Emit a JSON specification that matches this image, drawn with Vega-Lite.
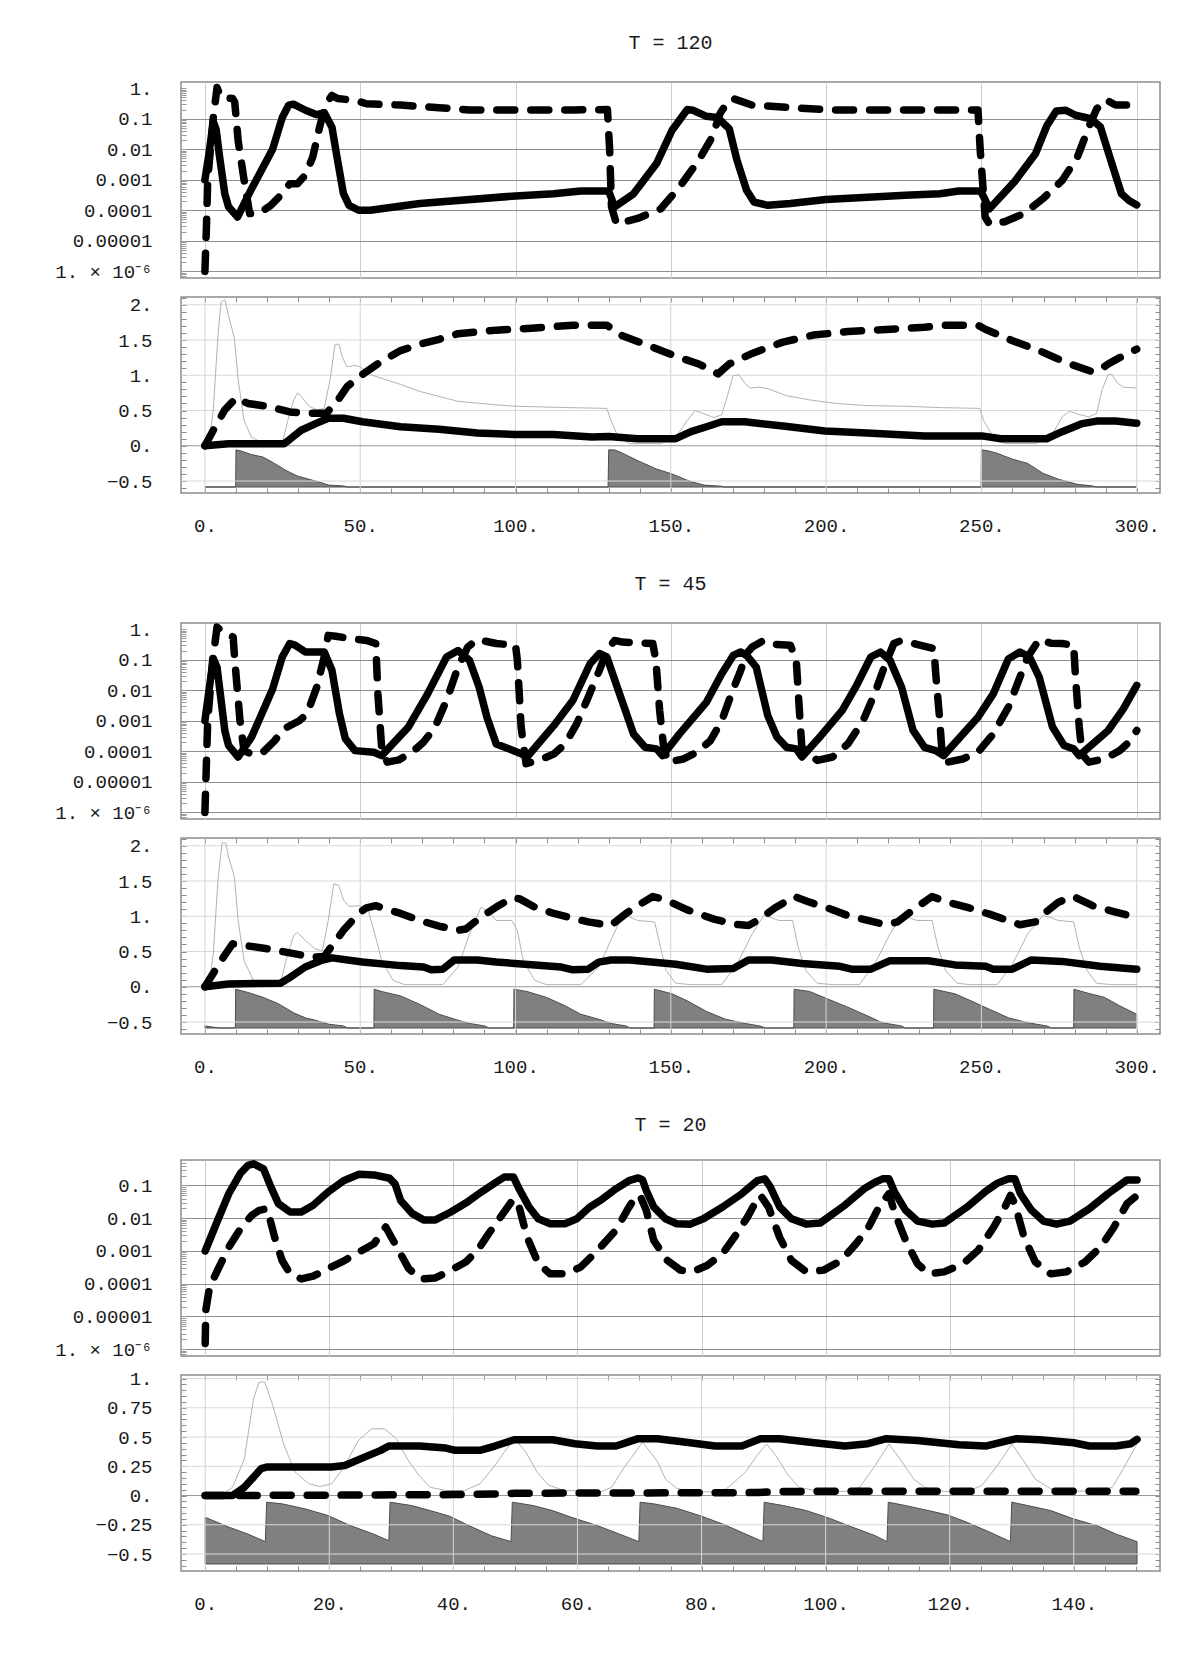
{
"$schema": "https://vega.github.io/schema/vega-lite/v6.json",
"background": "white",
"padding": {"left": 54, "top": 32, "right": 5, "bottom": 5},
"config": {
  "font": "Liberation Mono",
  "view": {"stroke": "#8c8c8c", "strokeWidth": 1.5},
  "axis": {"labelFont": "Liberation Mono", "labelFontSize": 19, "labelColor": "#1a1a1a", "domain": false, "labelOverlap": false, "labelBound": false, "labelFlush": false, "tickColor": "#8c8c8c", "tickWidth": 1},
  "title": {"font": "Liberation Mono", "fontSize": 20, "fontWeight": "normal", "color": "#1a1a1a"}
},
"datasets": {
"t120_log": [
{"s":"A","t":0,"v":0.001},{"s":"A","t":1.2,"v":0.006},{"s":"A","t":2.7,"v":0.08},{"s":"A","t":3.6,"v":0.045},{"s":"A","t":4.6,"v":0.007},{"s":"A","t":6.4,"v":0.00035},{"s":"A","t":7.6,"v":0.00013},{"s":"A","t":10.5,"v":0.00006},{"s":"A","t":15,"v":0.0005},{"s":"A","t":21.8,"v":0.01},{"s":"A","t":24.9,"v":0.11},{"s":"A","t":27,"v":0.28},{"s":"A","t":28.5,"v":0.3},{"s":"A","t":32.4,"v":0.19},{"s":"A","t":36,"v":0.135},{"s":"A","t":38.4,"v":0.16},{"s":"A","t":40.9,"v":0.053},{"s":"A","t":42.7,"v":0.0044},{"s":"A","t":44.6,"v":0.00035},{"s":"A","t":46.4,"v":0.000145},{"s":"A","t":49.5,"v":0.0001},{"s":"A","t":53.2,"v":0.0001},{"s":"A","t":69.2,"v":0.000166},{"s":"A","t":100,"v":0.000295},{"s":"A","t":112.3,"v":0.000347},{"s":"A","t":121,"v":0.000427},{"s":"A","t":130,"v":0.000427},{"s":"A","t":131.9,"v":0.00013},{"s":"A","t":138,"v":0.000347},{"s":"A","t":145.4,"v":0.0034},{"s":"A","t":150.4,"v":0.042},{"s":"A","t":155.3,"v":0.2},{"s":"A","t":157.1,"v":0.19},{"s":"A","t":161.5,"v":0.12},{"s":"A","t":165,"v":0.11},{"s":"A","t":168.8,"v":0.047},{"s":"A","t":171.3,"v":0.0044},{"s":"A","t":174.4,"v":0.00045},{"s":"A","t":176.8,"v":0.000186},{"s":"A","t":181.2,"v":0.000145},{"s":"A","t":188.5,"v":0.000166},{"s":"A","t":199.9,"v":0.000224},{"s":"A","t":225.5,"v":0.00031},{"s":"A","t":236.6,"v":0.000347},{"s":"A","t":242.7,"v":0.000427},{"s":"A","t":249.8,"v":0.000427},{"s":"A","t":252.6,"v":0.000112},{"s":"A","t":260.6,"v":0.00085},{"s":"A","t":267.4,"v":0.0071},{"s":"A","t":271.1,"v":0.06},{"s":"A","t":274.1,"v":0.18},{"s":"A","t":277.2,"v":0.19},{"s":"A","t":280.3,"v":0.13},{"s":"A","t":285.2,"v":0.1},{"s":"A","t":288.3,"v":0.054},{"s":"A","t":292,"v":0.0034},{"s":"A","t":295.1,"v":0.000347},{"s":"A","t":297.5,"v":0.00021},{"s":"A","t":300,"v":0.00015},
{"s":"B","t":0,"v":0.000001},{"s":"B","t":0.5,"v":0.00003},{"s":"B","t":0.9,"v":0.001},{"s":"B","t":2.7,"v":0.11},{"s":"B","t":3.9,"v":1.05},{"s":"B","t":5.2,"v":0.5},{"s":"B","t":8.9,"v":0.46},{"s":"B","t":9.6,"v":0.35},{"s":"B","t":10.7,"v":0.019},{"s":"B","t":12.6,"v":0.001},{"s":"B","t":14.4,"v":0.000078},{"s":"B","t":17.5,"v":0.00008},{"s":"B","t":21.2,"v":0.000145},{"s":"B","t":24.9,"v":0.00035},{"s":"B","t":27.3,"v":0.00074},{"s":"B","t":29.8,"v":0.00074},{"s":"B","t":32.3,"v":0.0014},{"s":"B","t":34.7,"v":0.0055},{"s":"B","t":37.2,"v":0.069},{"s":"B","t":39,"v":0.31},{"s":"B","t":40.9,"v":0.58},{"s":"B","t":42.7,"v":0.46},{"s":"B","t":48.3,"v":0.4},{"s":"B","t":52,"v":0.31},{"s":"B","t":63,"v":0.28},{"s":"B","t":75.4,"v":0.23},{"s":"B","t":85.2,"v":0.195},{"s":"B","t":118.5,"v":0.195},{"s":"B","t":129.6,"v":0.2},{"s":"B","t":130.3,"v":0.01},{"s":"B","t":130.9,"v":0.00013},{"s":"B","t":132.5,"v":0.000036},{"s":"B","t":139.3,"v":0.000054},{"s":"B","t":146.7,"v":0.00011},{"s":"B","t":152.8,"v":0.00058},{"s":"B","t":159,"v":0.0044},{"s":"B","t":163.3,"v":0.025},{"s":"B","t":165.8,"v":0.145},{"s":"B","t":168.2,"v":0.35},{"s":"B","t":170,"v":0.46},{"s":"B","t":176.2,"v":0.28},{"s":"B","t":200.9,"v":0.195},{"s":"B","t":248.9,"v":0.195},{"s":"B","t":249.6,"v":0.01},{"s":"B","t":251.2,"v":0.00006},{"s":"B","t":252.6,"v":0.000035},{"s":"B","t":257.5,"v":0.000042},{"s":"B","t":263.7,"v":0.000078},{"s":"B","t":269.8,"v":0.00024},{"s":"B","t":276,"v":0.00095},{"s":"B","t":280.9,"v":0.0055},{"s":"B","t":284.6,"v":0.054},{"s":"B","t":287.1,"v":0.21},{"s":"B","t":290.1,"v":0.42},{"s":"B","t":293.2,"v":0.28},{"s":"B","t":300,"v":0.28}
],
"t120_lin": [
{"s":"C","t":0,"v":0},{"s":"C","t":2.7,"v":0.22},{"s":"C","t":6.4,"v":0.51},{"s":"C","t":10.1,"v":0.68},{"s":"C","t":13.8,"v":0.6},{"s":"C","t":20,"v":0.56},{"s":"C","t":27.3,"v":0.48},{"s":"C","t":32.3,"v":0.46},{"s":"C","t":39,"v":0.46},{"s":"C","t":42.1,"v":0.6},{"s":"C","t":45.8,"v":0.84},{"s":"C","t":50.7,"v":1.01},{"s":"C","t":56.9,"v":1.2},{"s":"C","t":63,"v":1.35},{"s":"C","t":69.2,"v":1.44},{"s":"C","t":75.4,"v":1.51},{"s":"C","t":81.5,"v":1.59},{"s":"C","t":93.8,"v":1.64},{"s":"C","t":106.2,"v":1.67},{"s":"C","t":118.5,"v":1.71},{"s":"C","t":129.4,"v":1.71},{"s":"C","t":134.4,"v":1.56},{"s":"C","t":141.7,"v":1.44},{"s":"C","t":151.6,"v":1.27},{"s":"C","t":159,"v":1.16},{"s":"C","t":163.9,"v":1.05},{"s":"C","t":165.2,"v":1.02},{"s":"C","t":168.8,"v":1.16},{"s":"C","t":176.2,"v":1.31},{"s":"C","t":186.1,"v":1.47},{"s":"C","t":195.9,"v":1.57},{"s":"C","t":207,"v":1.62},{"s":"C","t":219.3,"v":1.65},{"s":"C","t":231.7,"v":1.68},{"s":"C","t":237.8,"v":1.71},{"s":"C","t":248.9,"v":1.71},{"s":"C","t":251.4,"v":1.65},{"s":"C","t":260,"v":1.49},{"s":"C","t":268.6,"v":1.35},{"s":"C","t":277.2,"v":1.18},{"s":"C","t":285.8,"v":1.05},{"s":"C","t":288.3,"v":1.08},{"s":"C","t":290.8,"v":1.16},{"s":"C","t":294.5,"v":1.25},{"s":"C","t":300,"v":1.37},
{"s":"D","t":0,"v":0},{"s":"D","t":7.6,"v":0.03},{"s":"D","t":20,"v":0.03},{"s":"D","t":25.5,"v":0.03},{"s":"D","t":27.3,"v":0.09},{"s":"D","t":31,"v":0.22},{"s":"D","t":36,"v":0.32},{"s":"D","t":39.7,"v":0.39},{"s":"D","t":44.6,"v":0.39},{"s":"D","t":50.7,"v":0.34},{"s":"D","t":63,"v":0.27},{"s":"D","t":75.4,"v":0.235},{"s":"D","t":87.7,"v":0.18},{"s":"D","t":100,"v":0.16},{"s":"D","t":112.3,"v":0.16},{"s":"D","t":124.6,"v":0.125},{"s":"D","t":130,"v":0.13},{"s":"D","t":139.3,"v":0.1},{"s":"D","t":151.6,"v":0.1},{"s":"D","t":156.5,"v":0.2},{"s":"D","t":161.5,"v":0.27},{"s":"D","t":166.4,"v":0.34},{"s":"D","t":173.8,"v":0.34},{"s":"D","t":186.1,"v":0.28},{"s":"D","t":199.6,"v":0.21},{"s":"D","t":213.2,"v":0.18},{"s":"D","t":231.7,"v":0.14},{"s":"D","t":250.1,"v":0.14},{"s":"D","t":256.3,"v":0.1},{"s":"D","t":271,"v":0.1},{"s":"D","t":276,"v":0.2},{"s":"D","t":282.1,"v":0.31},{"s":"D","t":287.1,"v":0.35},{"s":"D","t":293.2,"v":0.35},{"s":"D","t":300,"v":0.32},
{"s":"E","t":0,"v":0},{"s":"E","t":1.2,"v":0},{"s":"E","t":2.7,"v":0.51},{"s":"E","t":4.2,"v":1.56},{"s":"E","t":5.2,"v":2.04},{"s":"E","t":6.4,"v":2.07},{"s":"E","t":7.6,"v":1.85},{"s":"E","t":9.5,"v":1.52},{"s":"E","t":10.7,"v":0.94},{"s":"E","t":12.6,"v":0.36},{"s":"E","t":15,"v":0.12},{"s":"E","t":18.7,"v":0.04},{"s":"E","t":24.9,"v":0.04},{"s":"E","t":26.7,"v":0.36},{"s":"E","t":28.6,"v":0.65},{"s":"E","t":29.8,"v":0.75},{"s":"E","t":31,"v":0.7},{"s":"E","t":33.5,"v":0.56},{"s":"E","t":36,"v":0.51},{"s":"E","t":38.4,"v":0.53},{"s":"E","t":40.3,"v":0.94},{"s":"E","t":41.9,"v":1.44},{"s":"E","t":43.1,"v":1.44},{"s":"E","t":44.3,"v":1.25},{"s":"E","t":45.8,"v":1.12},{"s":"E","t":48.3,"v":1.14},{"s":"E","t":50.1,"v":1.12},{"s":"E","t":53.2,"v":1.01},{"s":"E","t":63,"v":0.87},{"s":"E","t":69.2,"v":0.77},{"s":"E","t":81.5,"v":0.63},{"s":"E","t":93.8,"v":0.58},{"s":"E","t":100,"v":0.56},{"s":"E","t":118.5,"v":0.54},{"s":"E","t":129.4,"v":0.53},{"s":"E","t":130.7,"v":0.36},{"s":"E","t":133.1,"v":0.12},{"s":"E","t":136.8,"v":0.03},{"s":"E","t":146.7,"v":0.03},{"s":"E","t":151.6,"v":0.12},{"s":"E","t":155.3,"v":0.36},{"s":"E","t":157.8,"v":0.5},{"s":"E","t":160.3,"v":0.46},{"s":"E","t":163.9,"v":0.4},{"s":"E","t":166.4,"v":0.44},{"s":"E","t":168.2,"v":0.7},{"s":"E","t":170,"v":0.99},{"s":"E","t":171.9,"v":1.01},{"s":"E","t":173.8,"v":0.89},{"s":"E","t":175.6,"v":0.82},{"s":"E","t":178.7,"v":0.83},{"s":"E","t":181.2,"v":0.81},{"s":"E","t":187.3,"v":0.71},{"s":"E","t":194.7,"v":0.65},{"s":"E","t":203.3,"v":0.6},{"s":"E","t":213.2,"v":0.57},{"s":"E","t":225.5,"v":0.56},{"s":"E","t":237.8,"v":0.54},{"s":"E","t":249.5,"v":0.53},{"s":"E","t":250.7,"v":0.36},{"s":"E","t":253.8,"v":0.12},{"s":"E","t":257.5,"v":0.03},{"s":"E","t":267.4,"v":0.03},{"s":"E","t":272.3,"v":0.12},{"s":"E","t":276,"v":0.41},{"s":"E","t":278.5,"v":0.49},{"s":"E","t":280.9,"v":0.45},{"s":"E","t":284.6,"v":0.41},{"s":"E","t":287.1,"v":0.46},{"s":"E","t":288.9,"v":0.8},{"s":"E","t":290.8,"v":1.01},{"s":"E","t":292,"v":1.01},{"s":"E","t":293.8,"v":0.89},{"s":"E","t":295.7,"v":0.83},{"s":"E","t":300,"v":0.82},
{"s":"F","t":0,"v":-0.585},{"s":"F","t":9.9,"v":-0.585},{"s":"F","t":10,"v":-0.058},{"s":"F","t":11.3,"v":-0.07},{"s":"F","t":15,"v":-0.125},{"s":"F","t":18.7,"v":-0.16},{"s":"F","t":22.4,"v":-0.25},{"s":"F","t":26.1,"v":-0.35},{"s":"F","t":29.8,"v":-0.43},{"s":"F","t":33.5,"v":-0.475},{"s":"F","t":37.2,"v":-0.52},{"s":"F","t":39.7,"v":-0.557},{"s":"F","t":44.6,"v":-0.57},{"s":"F","t":45.8,"v":-0.585},{"s":"F","t":129.8,"v":-0.585},{"s":"F","t":130,"v":-0.058},{"s":"F","t":132,"v":-0.06},{"s":"F","t":134.4,"v":-0.105},{"s":"F","t":139.3,"v":-0.21},{"s":"F","t":145.4,"v":-0.33},{"s":"F","t":150.4,"v":-0.4},{"s":"F","t":156.5,"v":-0.51},{"s":"F","t":160.8,"v":-0.557},{"s":"F","t":166.4,"v":-0.575},{"s":"F","t":167,"v":-0.585},{"s":"F","t":249.9,"v":-0.585},{"s":"F","t":250,"v":-0.058},{"s":"F","t":252,"v":-0.07},{"s":"F","t":255,"v":-0.105},{"s":"F","t":260,"v":-0.19},{"s":"F","t":264.9,"v":-0.25},{"s":"F","t":269.8,"v":-0.39},{"s":"F","t":274.8,"v":-0.475},{"s":"F","t":280.9,"v":-0.547},{"s":"F","t":285.8,"v":-0.57},{"s":"F","t":287,"v":-0.585},{"s":"F","t":300,"v":-0.585}
],
"t45_log": [
{"s":"A","t":0,"v":0.001},{"s":"A","t":2.7,"v":0.107},{"s":"A","t":3.9,"v":0.057},{"s":"A","t":6.4,"v":0.00048},{"s":"A","t":7.6,"v":0.000155},{"s":"A","t":10.7,"v":0.000065},{"s":"A","t":15,"v":0.00029},{"s":"A","t":21.8,"v":0.011},{"s":"A","t":24.9,"v":0.123},{"s":"A","t":27.3,"v":0.34},{"s":"A","t":29,"v":0.3},{"s":"A","t":32.3,"v":0.18},{"s":"A","t":38.4,"v":0.18},{"s":"A","t":40.9,"v":0.045},{"s":"A","t":43.3,"v":0.0017},{"s":"A","t":45.2,"v":0.00026},{"s":"A","t":48.3,"v":0.000105},{"s":"A","t":54.4,"v":0.000093},{"s":"A","t":56.9,"v":0.000072},{"s":"A","t":65.5,"v":0.00062},{"s":"A","t":71.7,"v":0.0076},{"s":"A","t":77.8,"v":0.123},{"s":"A","t":81.5,"v":0.2},{"s":"A","t":85.2,"v":0.095},{"s":"A","t":88.3,"v":0.0126},{"s":"A","t":90.8,"v":0.0013},{"s":"A","t":93.8,"v":0.000174},{"s":"A","t":98.8,"v":0.00011},{"s":"A","t":101.8,"v":0.000083},{"s":"A","t":103.7,"v":0.000065},{"s":"A","t":112.3,"v":0.00069},{"s":"A","t":118.5,"v":0.0047},{"s":"A","t":124,"v":0.074},{"s":"A","t":127,"v":0.16},{"s":"A","t":129.4,"v":0.123},{"s":"A","t":133.1,"v":0.01},{"s":"A","t":138,"v":0.00037},{"s":"A","t":141.7,"v":0.000135},{"s":"A","t":145.4,"v":0.00012},{"s":"A","t":147.3,"v":0.000072},{"s":"A","t":152.8,"v":0.00037},{"s":"A","t":161.5,"v":0.0041},{"s":"A","t":166.4,"v":0.035},{"s":"A","t":170.1,"v":0.138},{"s":"A","t":172.5,"v":0.18},{"s":"A","t":174.4,"v":0.138},{"s":"A","t":177.5,"v":0.057},{"s":"A","t":181.2,"v":0.0015},{"s":"A","t":184.2,"v":0.00029},{"s":"A","t":187.3,"v":0.000135},{"s":"A","t":190.4,"v":0.00012},{"s":"A","t":192.2,"v":0.000065},{"s":"A","t":198.4,"v":0.00033},{"s":"A","t":205.2,"v":0.0022},{"s":"A","t":209.5,"v":0.0126},{"s":"A","t":214.4,"v":0.123},{"s":"A","t":217.5,"v":0.18},{"s":"A","t":220.6,"v":0.095},{"s":"A","t":224.3,"v":0.0126},{"s":"A","t":228,"v":0.00048},{"s":"A","t":231.7,"v":0.000135},{"s":"A","t":235.3,"v":0.000105},{"s":"A","t":237.8,"v":0.000072},{"s":"A","t":248.9,"v":0.0013},{"s":"A","t":253.8,"v":0.0076},{"s":"A","t":258.7,"v":0.107},{"s":"A","t":262.4,"v":0.18},{"s":"A","t":265.5,"v":0.123},{"s":"A","t":268.6,"v":0.027},{"s":"A","t":272.9,"v":0.00062},{"s":"A","t":276.6,"v":0.000155},{"s":"A","t":279.7,"v":0.00012},{"s":"A","t":281.5,"v":0.000072},{"s":"A","t":290.8,"v":0.00048},{"s":"A","t":295.7,"v":0.00245},{"s":"A","t":300,"v":0.0145},
{"s":"B","t":0,"v":0.000001},{"s":"B","t":0.9,"v":0.001},{"s":"B","t":2.5,"v":0.095},{"s":"B","t":3.9,"v":1.17},{"s":"B","t":5.2,"v":0.91},{"s":"B","t":9.1,"v":0.55},{"s":"B","t":9.6,"v":0.1},{"s":"B","t":11.3,"v":0.001},{"s":"B","t":12.6,"v":0.000105},{"s":"B","t":15,"v":0.000081},{"s":"B","t":18.7,"v":0.000093},{"s":"B","t":22.4,"v":0.00022},{"s":"B","t":25.5,"v":0.00055},{"s":"B","t":30.4,"v":0.001},{"s":"B","t":32.9,"v":0.0017},{"s":"B","t":36,"v":0.0126},{"s":"B","t":38.4,"v":0.123},{"s":"B","t":39.7,"v":0.63},{"s":"B","t":42.1,"v":0.59},{"s":"B","t":47,"v":0.49},{"s":"B","t":52,"v":0.43},{"s":"B","t":55,"v":0.34},{"s":"B","t":55.7,"v":0.0076},{"s":"B","t":56.9,"v":0.000135},{"s":"B","t":58.7,"v":0.000044},{"s":"B","t":62.4,"v":0.000052},{"s":"B","t":66.7,"v":0.000093},{"s":"B","t":70.4,"v":0.0002},{"s":"B","t":74.1,"v":0.00062},{"s":"B","t":77.8,"v":0.0047},{"s":"B","t":81.5,"v":0.057},{"s":"B","t":84.6,"v":0.26},{"s":"B","t":87.7,"v":0.46},{"s":"B","t":93.8,"v":0.34},{"s":"B","t":100,"v":0.3},{"s":"B","t":100.6,"v":0.095},{"s":"B","t":101.8,"v":0.00062},{"s":"B","t":103.4,"v":0.000039},{"s":"B","t":108.6,"v":0.000056},{"s":"B","t":112.3,"v":0.000081},{"s":"B","t":116,"v":0.000174},{"s":"B","t":119.7,"v":0.00079},{"s":"B","t":123.4,"v":0.0059},{"s":"B","t":127,"v":0.045},{"s":"B","t":129.4,"v":0.2},{"s":"B","t":131.9,"v":0.43},{"s":"B","t":134.4,"v":0.38},{"s":"B","t":144.2,"v":0.34},{"s":"B","t":145.2,"v":0.095},{"s":"B","t":146.4,"v":0.0022},{"s":"B","t":147.7,"v":0.000135},{"s":"B","t":149.1,"v":0.000044},{"s":"B","t":154.1,"v":0.000056},{"s":"B","t":158.4,"v":0.000093},{"s":"B","t":162.7,"v":0.00022},{"s":"B","t":166.4,"v":0.001},{"s":"B","t":169.5,"v":0.0076},{"s":"B","t":172.5,"v":0.045},{"s":"B","t":174.4,"v":0.16},{"s":"B","t":176.2,"v":0.26},{"s":"B","t":179.9,"v":0.43},{"s":"B","t":183.6,"v":0.32},{"s":"B","t":188.5,"v":0.3},{"s":"B","t":190.4,"v":0.095},{"s":"B","t":191.6,"v":0.001},{"s":"B","t":192.2,"v":0.000135},{"s":"B","t":197.2,"v":0.00005},{"s":"B","t":202.1,"v":0.000065},{"s":"B","t":207,"v":0.000174},{"s":"B","t":211.9,"v":0.001},{"s":"B","t":215.6,"v":0.0076},{"s":"B","t":218.7,"v":0.057},{"s":"B","t":221.8,"v":0.34},{"s":"B","t":224.3,"v":0.43},{"s":"B","t":229.2,"v":0.32},{"s":"B","t":234.7,"v":0.23},{"s":"B","t":235.3,"v":0.035},{"s":"B","t":236.6,"v":0.001},{"s":"B","t":237.2,"v":0.000135},{"s":"B","t":239.1,"v":0.000044},{"s":"B","t":244,"v":0.000056},{"s":"B","t":248.9,"v":0.000093},{"s":"B","t":253.8,"v":0.00037},{"s":"B","t":258.7,"v":0.0028},{"s":"B","t":262.4,"v":0.027},{"s":"B","t":264.9,"v":0.123},{"s":"B","t":268.6,"v":0.46},{"s":"B","t":272.3,"v":0.35},{"s":"B","t":276,"v":0.34},{"s":"B","t":279.7,"v":0.3},{"s":"B","t":280.3,"v":0.027},{"s":"B","t":281.5,"v":0.00062},{"s":"B","t":282.4,"v":0.000081},{"s":"B","t":284.6,"v":0.000044},{"s":"B","t":289.6,"v":0.000056},{"s":"B","t":294.5,"v":0.000105},{"s":"B","t":297.5,"v":0.0002},{"s":"B","t":300,"v":0.00048}
],
"t45_lin": [
{"s":"C","t":0,"v":0},{"s":"C","t":5.2,"v":0.37},{"s":"C","t":8.9,"v":0.61},{"s":"C","t":13.8,"v":0.58},{"s":"C","t":20,"v":0.54},{"s":"C","t":27.3,"v":0.48},{"s":"C","t":34.7,"v":0.42},{"s":"C","t":38.4,"v":0.43},{"s":"C","t":40.9,"v":0.58},{"s":"C","t":44.6,"v":0.8},{"s":"C","t":49.5,"v":1.04},{"s":"C","t":52,"v":1.12},{"s":"C","t":55,"v":1.15},{"s":"C","t":63,"v":1.04},{"s":"C","t":69.2,"v":0.94},{"s":"C","t":75.4,"v":0.86},{"s":"C","t":81.5,"v":0.8},{"s":"C","t":84,"v":0.82},{"s":"C","t":88.9,"v":0.99},{"s":"C","t":93.8,"v":1.13},{"s":"C","t":98.8,"v":1.26},{"s":"C","t":101.2,"v":1.25},{"s":"C","t":106.2,"v":1.13},{"s":"C","t":112.3,"v":1.04},{"s":"C","t":118.5,"v":0.97},{"s":"C","t":123.4,"v":0.92},{"s":"C","t":130.7,"v":0.87},{"s":"C","t":135.6,"v":1.04},{"s":"C","t":139.3,"v":1.15},{"s":"C","t":144.2,"v":1.28},{"s":"C","t":148.5,"v":1.23},{"s":"C","t":155.3,"v":1.09},{"s":"C","t":163.9,"v":0.96},{"s":"C","t":170.1,"v":0.89},{"s":"C","t":175,"v":0.87},{"s":"C","t":178.7,"v":0.96},{"s":"C","t":183.6,"v":1.12},{"s":"C","t":189.8,"v":1.28},{"s":"C","t":194.7,"v":1.2},{"s":"C","t":200.9,"v":1.11},{"s":"C","t":207,"v":1.01},{"s":"C","t":214.4,"v":0.93},{"s":"C","t":219.3,"v":0.88},{"s":"C","t":223,"v":0.92},{"s":"C","t":228,"v":1.09},{"s":"C","t":234.1,"v":1.28},{"s":"C","t":239.1,"v":1.2},{"s":"C","t":245.2,"v":1.13},{"s":"C","t":252.6,"v":1.03},{"s":"C","t":262.4,"v":0.88},{"s":"C","t":267.4,"v":0.92},{"s":"C","t":271.1,"v":1.07},{"s":"C","t":274.8,"v":1.2},{"s":"C","t":279.7,"v":1.28},{"s":"C","t":285.8,"v":1.15},{"s":"C","t":293.2,"v":1.06},{"s":"C","t":300,"v":0.98},
{"s":"D","t":0,"v":0},{"s":"D","t":7.6,"v":0.04},{"s":"D","t":24.3,"v":0.05},{"s":"D","t":27.3,"v":0.13},{"s":"D","t":32.3,"v":0.28},{"s":"D","t":37.2,"v":0.37},{"s":"D","t":40.9,"v":0.41},{"s":"D","t":50.7,"v":0.35},{"s":"D","t":63,"v":0.3},{"s":"D","t":70.4,"v":0.28},{"s":"D","t":72.9,"v":0.24},{"s":"D","t":76.6,"v":0.25},{"s":"D","t":80.3,"v":0.38},{"s":"D","t":87.7,"v":0.38},{"s":"D","t":93.8,"v":0.35},{"s":"D","t":106.2,"v":0.31},{"s":"D","t":114.8,"v":0.28},{"s":"D","t":118.5,"v":0.24},{"s":"D","t":123.4,"v":0.25},{"s":"D","t":126.8,"v":0.35},{"s":"D","t":130.7,"v":0.38},{"s":"D","t":136.8,"v":0.38},{"s":"D","t":151.6,"v":0.32},{"s":"D","t":161.5,"v":0.25},{"s":"D","t":170.1,"v":0.26},{"s":"D","t":175,"v":0.38},{"s":"D","t":182.4,"v":0.38},{"s":"D","t":192.2,"v":0.33},{"s":"D","t":204.5,"v":0.29},{"s":"D","t":208.2,"v":0.25},{"s":"D","t":214.4,"v":0.25},{"s":"D","t":220.6,"v":0.37},{"s":"D","t":232.9,"v":0.37},{"s":"D","t":241.5,"v":0.31},{"s":"D","t":251.4,"v":0.29},{"s":"D","t":253.8,"v":0.25},{"s":"D","t":259.9,"v":0.25},{"s":"D","t":266.1,"v":0.38},{"s":"D","t":275.9,"v":0.36},{"s":"D","t":288.2,"v":0.29},{"s":"D","t":300,"v":0.25},
{"s":"E","t":0,"v":0},{"s":"E","t":1.2,"v":0},{"s":"E","t":2.7,"v":0.47},{"s":"E","t":4.2,"v":1.51},{"s":"E","t":5.5,"v":2.04},{"s":"E","t":6.7,"v":2.04},{"s":"E","t":7.6,"v":1.84},{"s":"E","t":9.5,"v":1.56},{"s":"E","t":10.7,"v":0.94},{"s":"E","t":12.6,"v":0.37},{"s":"E","t":15.6,"v":0.09},{"s":"E","t":18.7,"v":0.04},{"s":"E","t":24.3,"v":0.04},{"s":"E","t":26.1,"v":0.37},{"s":"E","t":28.6,"v":0.73},{"s":"E","t":29.8,"v":0.77},{"s":"E","t":32.3,"v":0.66},{"s":"E","t":35.3,"v":0.54},{"s":"E","t":37.8,"v":0.51},{"s":"E","t":39.7,"v":0.94},{"s":"E","t":41.5,"v":1.46},{"s":"E","t":43.1,"v":1.44},{"s":"E","t":44.6,"v":1.23},{"s":"E","t":46.4,"v":1.14},{"s":"E","t":50.1,"v":1.15},{"s":"E","t":52.6,"v":1.08},{"s":"E","t":55,"v":0.7},{"s":"E","t":56.9,"v":0.37},{"s":"E","t":60.6,"v":0.09},{"s":"E","t":64.3,"v":0.03},{"s":"E","t":76.6,"v":0.03},{"s":"E","t":81.5,"v":0.28},{"s":"E","t":85.2,"v":0.75},{"s":"E","t":88.9,"v":1.13},{"s":"E","t":91.4,"v":1.06},{"s":"E","t":93.8,"v":0.94},{"s":"E","t":98.8,"v":0.94},{"s":"E","t":100.6,"v":0.8},{"s":"E","t":102.5,"v":0.37},{"s":"E","t":106.2,"v":0.09},{"s":"E","t":109.9,"v":0.03},{"s":"E","t":121,"v":0.03},{"s":"E","t":126.8,"v":0.28},{"s":"E","t":130.7,"v":0.66},{"s":"E","t":134.4,"v":1.01},{"s":"E","t":136.8,"v":0.99},{"s":"E","t":139.3,"v":0.94},{"s":"E","t":144.8,"v":0.92},{"s":"E","t":146.7,"v":0.56},{"s":"E","t":148.5,"v":0.23},{"s":"E","t":151.6,"v":0.05},{"s":"E","t":156.5,"v":0.03},{"s":"E","t":166.4,"v":0.03},{"s":"E","t":171.3,"v":0.32},{"s":"E","t":176.2,"v":0.75},{"s":"E","t":179.9,"v":1.01},{"s":"E","t":182.4,"v":0.98},{"s":"E","t":184.8,"v":0.94},{"s":"E","t":189.2,"v":0.94},{"s":"E","t":191,"v":0.56},{"s":"E","t":193.5,"v":0.23},{"s":"E","t":197.2,"v":0.05},{"s":"E","t":202.1,"v":0.03},{"s":"E","t":210.7,"v":0.03},{"s":"E","t":215.6,"v":0.32},{"s":"E","t":220.6,"v":0.75},{"s":"E","t":224.3,"v":1.01},{"s":"E","t":226.7,"v":0.98},{"s":"E","t":229.2,"v":0.94},{"s":"E","t":234.1,"v":0.94},{"s":"E","t":236,"v":0.56},{"s":"E","t":238.5,"v":0.23},{"s":"E","t":242.2,"v":0.05},{"s":"E","t":246.5,"v":0.03},{"s":"E","t":255.1,"v":0.03},{"s":"E","t":260,"v":0.32},{"s":"E","t":264.9,"v":0.75},{"s":"E","t":269.8,"v":1.01},{"s":"E","t":272.3,"v":0.98},{"s":"E","t":274.8,"v":0.94},{"s":"E","t":279.7,"v":0.92},{"s":"E","t":281.5,"v":0.56},{"s":"E","t":284,"v":0.23},{"s":"E","t":287.1,"v":0.05},{"s":"E","t":292,"v":0.03},{"s":"E","t":300,"v":0.03},
{"s":"F","t":0,"v":-0.556},{"s":"F","t":3,"v":-0.575},{"s":"F","t":5,"v":-0.585},{"s":"F","t":9.8,"v":-0.585},{"s":"F","t":9.9,"v":-0.035},{"s":"F","t":13.8,"v":-0.08},{"s":"F","t":18.7,"v":-0.15},{"s":"F","t":23.6,"v":-0.24},{"s":"F","t":28.6,"v":-0.37},{"s":"F","t":32.3,"v":-0.44},{"s":"F","t":36,"v":-0.48},{"s":"F","t":39.7,"v":-0.53},{"s":"F","t":44.6,"v":-0.556},{"s":"F","t":46,"v":-0.585},{"s":"F","t":54.4,"v":-0.585},{"s":"F","t":54.5,"v":-0.035},{"s":"F","t":56.9,"v":-0.067},{"s":"F","t":63,"v":-0.13},{"s":"F","t":69.2,"v":-0.25},{"s":"F","t":75.4,"v":-0.39},{"s":"F","t":81.5,"v":-0.475},{"s":"F","t":85.2,"v":-0.52},{"s":"F","t":90.1,"v":-0.556},{"s":"F","t":91.5,"v":-0.585},{"s":"F","t":99.4,"v":-0.585},{"s":"F","t":99.5,"v":-0.035},{"s":"F","t":103.7,"v":-0.067},{"s":"F","t":109.9,"v":-0.15},{"s":"F","t":116,"v":-0.27},{"s":"F","t":121,"v":-0.39},{"s":"F","t":126.8,"v":-0.46},{"s":"F","t":130.7,"v":-0.52},{"s":"F","t":135.6,"v":-0.556},{"s":"F","t":136.8,"v":-0.585},{"s":"F","t":144.6,"v":-0.585},{"s":"F","t":144.7,"v":-0.035},{"s":"F","t":150.4,"v":-0.1},{"s":"F","t":155.3,"v":-0.2},{"s":"F","t":161.5,"v":-0.35},{"s":"F","t":167.6,"v":-0.46},{"s":"F","t":173.8,"v":-0.52},{"s":"F","t":178.7,"v":-0.556},{"s":"F","t":180.5,"v":-0.585},{"s":"F","t":189.6,"v":-0.585},{"s":"F","t":189.7,"v":-0.035},{"s":"F","t":194.7,"v":-0.067},{"s":"F","t":200.9,"v":-0.18},{"s":"F","t":207,"v":-0.29},{"s":"F","t":213.2,"v":-0.41},{"s":"F","t":218.1,"v":-0.51},{"s":"F","t":224.3,"v":-0.556},{"s":"F","t":225.5,"v":-0.585},{"s":"F","t":234.6,"v":-0.585},{"s":"F","t":234.7,"v":-0.035},{"s":"F","t":241.5,"v":-0.1},{"s":"F","t":247.7,"v":-0.22},{"s":"F","t":252.6,"v":-0.32},{"s":"F","t":258.7,"v":-0.44},{"s":"F","t":264.9,"v":-0.51},{"s":"F","t":271.1,"v":-0.556},{"s":"F","t":272.5,"v":-0.585},{"s":"F","t":279.7,"v":-0.585},{"s":"F","t":279.8,"v":-0.035},{"s":"F","t":284.6,"v":-0.095},{"s":"F","t":289.6,"v":-0.15},{"s":"F","t":294.5,"v":-0.27},{"s":"F","t":300,"v":-0.39}
],
"t20_log": [
{"s":"A","t":0,"v":0.001},{"s":"A","t":2,"v":0.0085},{"s":"A","t":3.8,"v":0.056},{"s":"A","t":5.7,"v":0.24},{"s":"A","t":6.9,"v":0.41},{"s":"A","t":7.8,"v":0.46},{"s":"A","t":9.4,"v":0.32},{"s":"A","t":10.6,"v":0.089},{"s":"A","t":11.8,"v":0.028},{"s":"A","t":13.7,"v":0.0155},{"s":"A","t":15.5,"v":0.0155},{"s":"A","t":17.4,"v":0.025},{"s":"A","t":19.8,"v":0.063},{"s":"A","t":22.3,"v":0.14},{"s":"A","t":24.8,"v":0.22},{"s":"A","t":27.2,"v":0.21},{"s":"A","t":29.7,"v":0.166},{"s":"A","t":30.6,"v":0.112},{"s":"A","t":31.5,"v":0.035},{"s":"A","t":33.4,"v":0.0138},{"s":"A","t":35.2,"v":0.0089},{"s":"A","t":37.1,"v":0.0089},{"s":"A","t":39.6,"v":0.0155},{"s":"A","t":42,"v":0.029},{"s":"A","t":44.5,"v":0.063},{"s":"A","t":46.9,"v":0.126},{"s":"A","t":48.2,"v":0.18},{"s":"A","t":49.7,"v":0.18},{"s":"A","t":50.6,"v":0.079},{"s":"A","t":52.2,"v":0.022},{"s":"A","t":53.7,"v":0.0096},{"s":"A","t":55.6,"v":0.0068},{"s":"A","t":58,"v":0.0068},{"s":"A","t":59.9,"v":0.0096},{"s":"A","t":62,"v":0.022},{"s":"A","t":63.7,"v":0.035},{"s":"A","t":66.2,"v":0.079},{"s":"A","t":68.3,"v":0.14},{"s":"A","t":69.8,"v":0.17},{"s":"A","t":70.5,"v":0.148},{"s":"A","t":71.1,"v":0.07},{"s":"A","t":72.3,"v":0.022},{"s":"A","t":74.2,"v":0.0096},{"s":"A","t":76,"v":0.0068},{"s":"A","t":78.2,"v":0.0066},{"s":"A","t":80.3,"v":0.0096},{"s":"A","t":83.4,"v":0.022},{"s":"A","t":86.5,"v":0.056},{"s":"A","t":89,"v":0.14},{"s":"A","t":90.2,"v":0.16},{"s":"A","t":91.1,"v":0.089},{"s":"A","t":92.6,"v":0.022},{"s":"A","t":94.5,"v":0.0096},{"s":"A","t":96.9,"v":0.0066},{"s":"A","t":99.1,"v":0.0071},{"s":"A","t":103.1,"v":0.025},{"s":"A","t":106.2,"v":0.079},{"s":"A","t":108,"v":0.126},{"s":"A","t":109.2,"v":0.16},{"s":"A","t":110.2,"v":0.16},{"s":"A","t":111.1,"v":0.063},{"s":"A","t":112.9,"v":0.0174},{"s":"A","t":114.8,"v":0.0082},{"s":"A","t":117.2,"v":0.0066},{"s":"A","t":119.1,"v":0.0071},{"s":"A","t":122.8,"v":0.022},{"s":"A","t":125.8,"v":0.066},{"s":"A","t":127.7,"v":0.118},{"s":"A","t":129.5,"v":0.16},{"s":"A","t":130.5,"v":0.16},{"s":"A","t":131.4,"v":0.056},{"s":"A","t":133.2,"v":0.0174},{"s":"A","t":135.1,"v":0.0082},{"s":"A","t":137.2,"v":0.0066},{"s":"A","t":139.4,"v":0.0082},{"s":"A","t":142.5,"v":0.0195},{"s":"A","t":145.5,"v":0.056},{"s":"A","t":148.6,"v":0.148},{"s":"A","t":150.2,"v":0.148},
{"s":"B","t":0,"v":0.0000015},{"s":"B","t":0.1,"v":0.0000155},{"s":"B","t":0.7,"v":0.000079},{"s":"B","t":2,"v":0.00026},{"s":"B","t":3.8,"v":0.0013},{"s":"B","t":5.7,"v":0.0048},{"s":"B","t":7.5,"v":0.0123},{"s":"B","t":8.7,"v":0.0174},{"s":"B","t":10,"v":0.0195},{"s":"B","t":11.2,"v":0.0026},{"s":"B","t":12.4,"v":0.00051},{"s":"B","t":13.7,"v":0.0002},{"s":"B","t":15.5,"v":0.00014},{"s":"B","t":17.4,"v":0.00017},{"s":"B","t":19.8,"v":0.00029},{"s":"B","t":22.3,"v":0.00049},{"s":"B","t":24.8,"v":0.00093},{"s":"B","t":27.2,"v":0.00166},{"s":"B","t":29.1,"v":0.0054},{"s":"B","t":30.9,"v":0.0013},{"s":"B","t":32.8,"v":0.00029},{"s":"B","t":34.6,"v":0.00014},{"s":"B","t":37.1,"v":0.00015},{"s":"B","t":39.6,"v":0.00026},{"s":"B","t":42,"v":0.00046},{"s":"B","t":43.9,"v":0.00105},{"s":"B","t":45.7,"v":0.0034},{"s":"B","t":47.6,"v":0.0108},{"s":"B","t":49.7,"v":0.039},{"s":"B","t":50.6,"v":0.022},{"s":"B","t":51.9,"v":0.0026},{"s":"B","t":53.7,"v":0.00041},{"s":"B","t":55.6,"v":0.0002},{"s":"B","t":58,"v":0.0002},{"s":"B","t":60.5,"v":0.00032},{"s":"B","t":63,"v":0.00093},{"s":"B","t":66.2,"v":0.0043},{"s":"B","t":68,"v":0.0174},{"s":"B","t":69.5,"v":0.05},{"s":"B","t":70.2,"v":0.044},{"s":"B","t":71.1,"v":0.0174},{"s":"B","t":72.3,"v":0.0021},{"s":"B","t":74.5,"v":0.00051},{"s":"B","t":76.6,"v":0.00026},{"s":"B","t":78.5,"v":0.00023},{"s":"B","t":80.9,"v":0.00036},{"s":"B","t":83.4,"v":0.00083},{"s":"B","t":85.5,"v":0.003},{"s":"B","t":87.4,"v":0.0108},{"s":"B","t":88.6,"v":0.028},{"s":"B","t":89.5,"v":0.05},{"s":"B","t":90.8,"v":0.022},{"s":"B","t":92.6,"v":0.0026},{"s":"B","t":94.5,"v":0.00051},{"s":"B","t":96.9,"v":0.00023},{"s":"B","t":99.7,"v":0.00026},{"s":"B","t":102.5,"v":0.00051},{"s":"B","t":104.9,"v":0.00166},{"s":"B","t":106.8,"v":0.0048},{"s":"B","t":108.6,"v":0.022},{"s":"B","t":110.2,"v":0.056},{"s":"B","t":111.1,"v":0.0155},{"s":"B","t":112.9,"v":0.0021},{"s":"B","t":114.8,"v":0.00041},{"s":"B","t":116.6,"v":0.0002},{"s":"B","t":119.1,"v":0.00023},{"s":"B","t":122.2,"v":0.00041},{"s":"B","t":124.6,"v":0.00105},{"s":"B","t":127.1,"v":0.0054},{"s":"B","t":128.9,"v":0.022},{"s":"B","t":129.8,"v":0.05},{"s":"B","t":130.5,"v":0.028},{"s":"B","t":132,"v":0.0026},{"s":"B","t":133.8,"v":0.00046},{"s":"B","t":136.3,"v":0.0002},{"s":"B","t":138.8,"v":0.00023},{"s":"B","t":141.8,"v":0.00046},{"s":"B","t":144.3,"v":0.0013},{"s":"B","t":146.5,"v":0.0054},{"s":"B","t":148.6,"v":0.028},{"s":"B","t":150.2,"v":0.05}
],
"t20_lin": [
{"s":"C","t":0,"v":0},{"s":"C","t":20,"v":0.003},{"s":"C","t":40,"v":0.008},{"s":"C","t":48,"v":0.015},{"s":"C","t":50,"v":0.02},{"s":"C","t":70,"v":0.022},{"s":"C","t":89,"v":0.025},{"s":"C","t":92,"v":0.035},{"s":"C","t":120,"v":0.037},{"s":"C","t":150,"v":0.037},
{"s":"D","t":0,"v":0},{"s":"D","t":4.4,"v":0},{"s":"D","t":6.3,"v":0.07},{"s":"D","t":7.8,"v":0.157},{"s":"D","t":9,"v":0.23},{"s":"D","t":9.9,"v":0.243},{"s":"D","t":20.4,"v":0.243},{"s":"D","t":22.5,"v":0.257},{"s":"D","t":25.3,"v":0.32},{"s":"D","t":28.3,"v":0.386},{"s":"D","t":29.6,"v":0.423},{"s":"D","t":34.5,"v":0.423},{"s":"D","t":38.8,"v":0.406},{"s":"D","t":40.3,"v":0.386},{"s":"D","t":44.3,"v":0.386},{"s":"D","t":46.7,"v":0.423},{"s":"D","t":49.8,"v":0.477},{"s":"D","t":56,"v":0.477},{"s":"D","t":59.6,"v":0.443},{"s":"D","t":63.2,"v":0.423},{"s":"D","t":66.2,"v":0.423},{"s":"D","t":67.4,"v":0.443},{"s":"D","t":69.8,"v":0.486},{"s":"D","t":72.9,"v":0.486},{"s":"D","t":77.2,"v":0.457},{"s":"D","t":82.2,"v":0.423},{"s":"D","t":86.5,"v":0.423},{"s":"D","t":89.5,"v":0.486},{"s":"D","t":92.6,"v":0.486},{"s":"D","t":98.2,"v":0.451},{"s":"D","t":103.1,"v":0.423},{"s":"D","t":106.8,"v":0.443},{"s":"D","t":109.8,"v":0.486},{"s":"D","t":114.8,"v":0.471},{"s":"D","t":121.5,"v":0.434},{"s":"D","t":125.8,"v":0.423},{"s":"D","t":128.9,"v":0.463},{"s":"D","t":130.8,"v":0.486},{"s":"D","t":134.5,"v":0.477},{"s":"D","t":140,"v":0.451},{"s":"D","t":142.5,"v":0.423},{"s":"D","t":146.8,"v":0.423},{"s":"D","t":149.2,"v":0.443},{"s":"D","t":150.2,"v":0.48},
{"s":"E","t":0,"v":0},{"s":"E","t":2.6,"v":0.006},{"s":"E","t":4.4,"v":0.07},{"s":"E","t":6.3,"v":0.31},{"s":"E","t":7.8,"v":0.83},{"s":"E","t":8.7,"v":0.97},{"s":"E","t":9.6,"v":0.97},{"s":"E","t":10.9,"v":0.77},{"s":"E","t":12.7,"v":0.43},{"s":"E","t":14.5,"v":0.2},{"s":"E","t":16.7,"v":0.1},{"s":"E","t":18.5,"v":0.077},{"s":"E","t":20.4,"v":0.1},{"s":"E","t":22.2,"v":0.23},{"s":"E","t":24.7,"v":0.47},{"s":"E","t":26.8,"v":0.57},{"s":"E","t":28.9,"v":0.57},{"s":"E","t":30.8,"v":0.486},{"s":"E","t":32.6,"v":0.31},{"s":"E","t":34.5,"v":0.17},{"s":"E","t":36.3,"v":0.07},{"s":"E","t":38.8,"v":0.043},{"s":"E","t":41.8,"v":0.043},{"s":"E","t":44.3,"v":0.1},{"s":"E","t":46.7,"v":0.257},{"s":"E","t":49.8,"v":0.49},{"s":"E","t":51.7,"v":0.37},{"s":"E","t":53.5,"v":0.2},{"s":"E","t":55.3,"v":0.09},{"s":"E","t":57.8,"v":0.043},{"s":"E","t":60.9,"v":0.04},{"s":"E","t":63.7,"v":0.03},{"s":"E","t":65.5,"v":0.07},{"s":"E","t":67.4,"v":0.23},{"s":"E","t":70.5,"v":0.457},{"s":"E","t":72.9,"v":0.29},{"s":"E","t":74.2,"v":0.14},{"s":"E","t":76,"v":0.063},{"s":"E","t":78,"v":0.034},{"s":"E","t":82.2,"v":0.03},{"s":"E","t":84,"v":0.057},{"s":"E","t":87.1,"v":0.2},{"s":"E","t":88.9,"v":0.34},{"s":"E","t":90.5,"v":0.44},{"s":"E","t":92,"v":0.34},{"s":"E","t":93.8,"v":0.186},{"s":"E","t":95.7,"v":0.07},{"s":"E","t":98.2,"v":0.043},{"s":"E","t":103.1,"v":0.034},{"s":"E","t":105.5,"v":0.07},{"s":"E","t":108,"v":0.257},{"s":"E","t":110.2,"v":0.44},{"s":"E","t":112.3,"v":0.29},{"s":"E","t":114.2,"v":0.14},{"s":"E","t":116,"v":0.07},{"s":"E","t":119.1,"v":0.034},{"s":"E","t":122.8,"v":0.034},{"s":"E","t":125.2,"v":0.086},{"s":"E","t":127.7,"v":0.257},{"s":"E","t":130,"v":0.44},{"s":"E","t":132,"v":0.29},{"s":"E","t":133.8,"v":0.14},{"s":"E","t":136.3,"v":0.057},{"s":"E","t":139.4,"v":0.034},{"s":"E","t":143.7,"v":0.043},{"s":"E","t":146.2,"v":0.07},{"s":"E","t":148,"v":0.23},{"s":"E","t":150.2,"v":0.44},
{"s":"F","t":0,"v":-0.186},{"s":"F","t":3.8,"v":-0.27},{"s":"F","t":6.9,"v":-0.33},{"s":"F","t":9.7,"v":-0.394},{"s":"F","t":9.9,"v":-0.057},{"s":"F","t":12.4,"v":-0.071},{"s":"F","t":16.1,"v":-0.114},{"s":"F","t":19.8,"v":-0.171},{"s":"F","t":23.4,"v":-0.257},{"s":"F","t":27.1,"v":-0.329},{"s":"F","t":29.6,"v":-0.386},{"s":"F","t":29.8,"v":-0.057},{"s":"F","t":33.3,"v":-0.086},{"s":"F","t":36.3,"v":-0.129},{"s":"F","t":39.4,"v":-0.177},{"s":"F","t":42.5,"v":-0.257},{"s":"F","t":46.1,"v":-0.343},{"s":"F","t":49.3,"v":-0.394},{"s":"F","t":49.5,"v":-0.057},{"s":"F","t":52.9,"v":-0.086},{"s":"F","t":56,"v":-0.129},{"s":"F","t":59,"v":-0.186},{"s":"F","t":63.2,"v":-0.257},{"s":"F","t":66.8,"v":-0.33},{"s":"F","t":69.9,"v":-0.394},{"s":"F","t":70.1,"v":-0.057},{"s":"F","t":72.3,"v":-0.071},{"s":"F","t":76,"v":-0.109},{"s":"F","t":79.7,"v":-0.171},{"s":"F","t":83.4,"v":-0.243},{"s":"F","t":87.1,"v":-0.329},{"s":"F","t":89.9,"v":-0.394},{"s":"F","t":90.1,"v":-0.057},{"s":"F","t":93.2,"v":-0.086},{"s":"F","t":96.9,"v":-0.129},{"s":"F","t":100.6,"v":-0.194},{"s":"F","t":104.3,"v":-0.27},{"s":"F","t":108,"v":-0.343},{"s":"F","t":109.9,"v":-0.394},{"s":"F","t":110.1,"v":-0.057},{"s":"F","t":112.9,"v":-0.086},{"s":"F","t":116.6,"v":-0.129},{"s":"F","t":119.7,"v":-0.166},{"s":"F","t":122.8,"v":-0.229},{"s":"F","t":126.5,"v":-0.314},{"s":"F","t":129.8,"v":-0.394},{"s":"F","t":130,"v":-0.057},{"s":"F","t":132.6,"v":-0.086},{"s":"F","t":136.3,"v":-0.129},{"s":"F","t":140,"v":-0.2},{"s":"F","t":143.7,"v":-0.257},{"s":"F","t":146.8,"v":-0.329},{"s":"F","t":150.2,"v":-0.394}
]
},
"spacing": 36,
"vconcat": [
{
 "bounds": "flush", "spacing": 19,
 "vconcat": [
  {
   "width": 979, "height": 196,
   "title": {"text": "T = 120", "frame": "group", "offset": 26},
   "data": {"name": "t120_log"},
   "encoding": {
     "x": {"field": "t", "type": "quantitative", "scale": {"domain": [-7.7, 307.5], "nice": false, "zero": false},
           "axis": {"values": [0,50,100,150,200,250,300], "grid": true, "gridColor": "#cdcdcd", "labels": false, "ticks": false, "domain": false, "title": null}},
     "y": {"field": "v", "type": "quantitative", "scale": {"type": "log", "domain": [6.03e-7, 1.6], "nice": false},
           "axis": {"values": [7e-7,8e-7,9e-7,1e-6,2e-6,3e-6,4e-6,5e-6,6e-6,7e-6,8e-6,9e-6,1e-5,2e-5,3e-5,4e-5,5e-5,6e-5,7e-5,8e-5,9e-5,1e-4,2e-4,3e-4,4e-4,5e-4,6e-4,7e-4,8e-4,9e-4,0.001,0.002,0.003,0.004,0.005,0.006,0.007,0.008,0.009,0.01,0.02,0.03,0.04,0.05,0.06,0.07,0.08,0.09,0.1,0.2,0.3,0.4,0.5,0.6,0.7,0.8,0.9,1],
                    "grid": true, "gridColor": {"condition": {"test": "abs(log(datum.value)/LN10 - round(log(datum.value)/LN10)) < 0.001 && datum.value < 0.5", "value": "#8f8f8f"}, "value": "rgba(0,0,0,0)"},
                    "ticks": true, "tickSize": -5, "tickColor": "#999999", "labelPadding": 34, "domain": false, "title": null,
                    "labelExpr": "abs(log(datum.value)/LN10 - round(log(datum.value)/LN10)) < 0.001 ? (datum.value > 0.5 ? '1.' : datum.value < 0.000002 ? '1. × 10⁻⁶' : format(datum.value, '.5~f')) : ''"}}
   },
   "layer": [
     {"transform": [{"filter": "datum.s == 'A'"}], "mark": {"type": "line", "color": "#000000", "strokeWidth": 7.5, "strokeCap": "round", "strokeJoin": "round", "clip": true}},
     {"transform": [{"filter": "datum.s == 'B'"}], "mark": {"type": "line", "color": "#000000", "strokeWidth": 7.5, "strokeCap": "round", "strokeJoin": "round", "strokeDash": [18, 16], "clip": true}}
   ]
  },
  {
   "width": 979, "height": 196,
   "resolve": {"axis": {"x": "independent", "y": "independent"}},
   "layer": [
     {
       "data": {"name": "t120_lin"},
       "transform": [{"filter": "datum.s == 'F'"}],
       "mark": {"type": "area", "color": "#808080", "stroke": "#4d4d4d", "strokeWidth": 1, "clip": true},
       "encoding": {
         "x": {"field": "t", "type": "quantitative", "scale": {"domain": [-7.7, 307.5], "nice": false, "zero": false},
               "axis": {"orient": "bottom", "values": [0,10,20,30,40,50,60,70,80,90,100,110,120,130,140,150,160,170,180,190,200,210,220,230,240,250,260,270,280,290,300], "grid": false, "ticks": true, "tickSize": -5, "labelPadding": 28.5, "domain": false, "title": null,
                        "labelExpr": "datum.value % 50 == 0 ? format(datum.value, 'd') + '.' : ''"}},
         "y": {"field": "v", "type": "quantitative", "scale": {"domain": [-0.67, 2.11], "nice": false, "zero": false},
               "axis": {"orient": "left", "values": [-0.6,-0.5,-0.4,-0.3,-0.2,-0.1,0,0.1,0.2,0.3,0.4,0.5,0.6,0.7,0.8,0.9,1,1.1,1.2,1.3,1.4,1.5,1.6,1.7,1.8,1.9,2,2.1], "grid": false, "ticks": true, "tickSize": -5, "labelPadding": 34, "domain": false, "title": null,
                        "labelExpr": "abs(datum.value*2 - round(datum.value*2)) < 0.001 ? (abs(datum.value - round(datum.value)) < 0.001 ? format(round(datum.value), 'd') + '.' : format(datum.value, '.1f')) : ''"}},
         "y2": {"datum": -0.585}
       }
     },
     {
       "layer": [
         {"data": {"values": [{"gx":0},{"gx":50},{"gx":100},{"gx":150},{"gx":200},{"gx":250},{"gx":300}]},
          "mark": {"type": "rule", "color": "#d4d4d4", "strokeWidth": 1},
          "encoding": {"x": {"field": "gx", "type": "quantitative", "scale": {"domain": [-7.7, 307.5], "nice": false, "zero": false},
                             "axis": {"orient": "top", "values": [0,10,20,30,40,50,60,70,80,90,100,110,120,130,140,150,160,170,180,190,200,210,220,230,240,250,260,270,280,290,300], "labels": false, "ticks": true, "tickSize": -5, "grid": false, "domain": false, "title": null}}}},
         {"data": {"values": [{"gy":2},{"gy":1.5},{"gy":1},{"gy":0.5},{"gy":-0.5}]},
          "mark": {"type": "rule", "color": "#d9d9d9", "strokeWidth": 1},
          "encoding": {"y": {"field": "gy", "type": "quantitative", "scale": {"domain": [-0.67, 2.11], "nice": false, "zero": false},
                             "axis": {"orient": "right", "values": [-0.6,-0.5,-0.4,-0.3,-0.2,-0.1,0,0.1,0.2,0.3,0.4,0.5,0.6,0.7,0.8,0.9,1,1.1,1.2,1.3,1.4,1.5,1.6,1.7,1.8,1.9,2,2.1], "labels": false, "ticks": true, "tickSize": -5, "grid": false, "domain": false, "title": null}}}},
         {"data": {"values": [{"gy":0}]},
          "mark": {"type": "rule", "color": "#999999", "strokeWidth": 1},
          "encoding": {"y": {"field": "gy", "type": "quantitative", "scale": {"domain": [-0.67, 2.11], "nice": false, "zero": false},
                             "axis": {"orient": "right", "values": [-0.6,-0.5,-0.4,-0.3,-0.2,-0.1,0,0.1,0.2,0.3,0.4,0.5,0.6,0.7,0.8,0.9,1,1.1,1.2,1.3,1.4,1.5,1.6,1.7,1.8,1.9,2,2.1], "labels": false, "ticks": true, "tickSize": -5, "grid": false, "domain": false, "title": null}}}}
       ]
     },
     {
       "data": {"name": "t120_lin"},
       "encoding": {
         "x": {"field": "t", "type": "quantitative", "scale": {"domain": [-7.7, 307.5], "nice": false, "zero": false}, "axis": null},
         "y": {"field": "v", "type": "quantitative", "scale": {"domain": [-0.67, 2.11], "nice": false, "zero": false}, "axis": null}
       },
       "layer": [
         {"transform": [{"filter": "datum.s == 'E'"}], "mark": {"type": "line", "color": "#b3b3b3", "strokeWidth": 1, "clip": true}},
         {"transform": [{"filter": "datum.s == 'D'"}], "mark": {"type": "line", "color": "#000000", "strokeWidth": 7.5, "strokeCap": "round", "strokeJoin": "round", "clip": true}},
         {"transform": [{"filter": "datum.s == 'C'"}], "mark": {"type": "line", "color": "#000000", "strokeWidth": 7.5, "strokeCap": "round", "strokeJoin": "round", "strokeDash": [18, 16], "clip": true}}
       ]
     }
   ]
  }
 ]
},
{
 "bounds": "flush", "spacing": 19,
 "vconcat": [
  {
   "width": 979, "height": 196,
   "title": {"text": "T = 45", "frame": "group", "offset": 26},
   "data": {"name": "t45_log"},
   "encoding": {
     "x": {"field": "t", "type": "quantitative", "scale": {"domain": [-7.7, 307.5], "nice": false, "zero": false},
           "axis": {"values": [0,50,100,150,200,250,300], "grid": true, "gridColor": "#cdcdcd", "labels": false, "ticks": false, "domain": false, "title": null}},
     "y": {"field": "v", "type": "quantitative", "scale": {"type": "log", "domain": [6.03e-7, 1.6], "nice": false},
           "axis": {"values": [7e-7,8e-7,9e-7,1e-6,2e-6,3e-6,4e-6,5e-6,6e-6,7e-6,8e-6,9e-6,1e-5,2e-5,3e-5,4e-5,5e-5,6e-5,7e-5,8e-5,9e-5,1e-4,2e-4,3e-4,4e-4,5e-4,6e-4,7e-4,8e-4,9e-4,0.001,0.002,0.003,0.004,0.005,0.006,0.007,0.008,0.009,0.01,0.02,0.03,0.04,0.05,0.06,0.07,0.08,0.09,0.1,0.2,0.3,0.4,0.5,0.6,0.7,0.8,0.9,1],
                    "grid": true, "gridColor": {"condition": {"test": "abs(log(datum.value)/LN10 - round(log(datum.value)/LN10)) < 0.001 && datum.value < 0.5", "value": "#8f8f8f"}, "value": "rgba(0,0,0,0)"},
                    "ticks": true, "tickSize": -5, "tickColor": "#999999", "labelPadding": 34, "domain": false, "title": null,
                    "labelExpr": "abs(log(datum.value)/LN10 - round(log(datum.value)/LN10)) < 0.001 ? (datum.value > 0.5 ? '1.' : datum.value < 0.000002 ? '1. × 10⁻⁶' : format(datum.value, '.5~f')) : ''"}}
   },
   "layer": [
     {"transform": [{"filter": "datum.s == 'A'"}], "mark": {"type": "line", "color": "#000000", "strokeWidth": 7.5, "strokeCap": "round", "strokeJoin": "round", "clip": true}},
     {"transform": [{"filter": "datum.s == 'B'"}], "mark": {"type": "line", "color": "#000000", "strokeWidth": 7.5, "strokeCap": "round", "strokeJoin": "round", "strokeDash": [18, 16], "clip": true}}
   ]
  },
  {
   "width": 979, "height": 196,
   "resolve": {"axis": {"x": "independent", "y": "independent"}},
   "layer": [
     {
       "data": {"name": "t45_lin"},
       "transform": [{"filter": "datum.s == 'F'"}],
       "mark": {"type": "area", "color": "#808080", "stroke": "#4d4d4d", "strokeWidth": 1, "clip": true},
       "encoding": {
         "x": {"field": "t", "type": "quantitative", "scale": {"domain": [-7.7, 307.5], "nice": false, "zero": false},
               "axis": {"orient": "bottom", "values": [0,10,20,30,40,50,60,70,80,90,100,110,120,130,140,150,160,170,180,190,200,210,220,230,240,250,260,270,280,290,300], "grid": false, "ticks": true, "tickSize": -5, "labelPadding": 28.5, "domain": false, "title": null,
                        "labelExpr": "datum.value % 50 == 0 ? format(datum.value, 'd') + '.' : ''"}},
         "y": {"field": "v", "type": "quantitative", "scale": {"domain": [-0.67, 2.11], "nice": false, "zero": false},
               "axis": {"orient": "left", "values": [-0.6,-0.5,-0.4,-0.3,-0.2,-0.1,0,0.1,0.2,0.3,0.4,0.5,0.6,0.7,0.8,0.9,1,1.1,1.2,1.3,1.4,1.5,1.6,1.7,1.8,1.9,2,2.1], "grid": false, "ticks": true, "tickSize": -5, "labelPadding": 34, "domain": false, "title": null,
                        "labelExpr": "abs(datum.value*2 - round(datum.value*2)) < 0.001 ? (abs(datum.value - round(datum.value)) < 0.001 ? format(round(datum.value), 'd') + '.' : format(datum.value, '.1f')) : ''"}},
         "y2": {"datum": -0.585}
       }
     },
     {
       "layer": [
         {"data": {"values": [{"gx":0},{"gx":50},{"gx":100},{"gx":150},{"gx":200},{"gx":250},{"gx":300}]},
          "mark": {"type": "rule", "color": "#d4d4d4", "strokeWidth": 1},
          "encoding": {"x": {"field": "gx", "type": "quantitative", "scale": {"domain": [-7.7, 307.5], "nice": false, "zero": false},
                             "axis": {"orient": "top", "values": [0,10,20,30,40,50,60,70,80,90,100,110,120,130,140,150,160,170,180,190,200,210,220,230,240,250,260,270,280,290,300], "labels": false, "ticks": true, "tickSize": -5, "grid": false, "domain": false, "title": null}}}},
         {"data": {"values": [{"gy":2},{"gy":1.5},{"gy":1},{"gy":0.5},{"gy":-0.5}]},
          "mark": {"type": "rule", "color": "#d9d9d9", "strokeWidth": 1},
          "encoding": {"y": {"field": "gy", "type": "quantitative", "scale": {"domain": [-0.67, 2.11], "nice": false, "zero": false},
                             "axis": {"orient": "right", "values": [-0.6,-0.5,-0.4,-0.3,-0.2,-0.1,0,0.1,0.2,0.3,0.4,0.5,0.6,0.7,0.8,0.9,1,1.1,1.2,1.3,1.4,1.5,1.6,1.7,1.8,1.9,2,2.1], "labels": false, "ticks": true, "tickSize": -5, "grid": false, "domain": false, "title": null}}}},
         {"data": {"values": [{"gy":0}]},
          "mark": {"type": "rule", "color": "#999999", "strokeWidth": 1},
          "encoding": {"y": {"field": "gy", "type": "quantitative", "scale": {"domain": [-0.67, 2.11], "nice": false, "zero": false},
                             "axis": {"orient": "right", "values": [-0.6,-0.5,-0.4,-0.3,-0.2,-0.1,0,0.1,0.2,0.3,0.4,0.5,0.6,0.7,0.8,0.9,1,1.1,1.2,1.3,1.4,1.5,1.6,1.7,1.8,1.9,2,2.1], "labels": false, "ticks": true, "tickSize": -5, "grid": false, "domain": false, "title": null}}}}
       ]
     },
     {
       "data": {"name": "t45_lin"},
       "encoding": {
         "x": {"field": "t", "type": "quantitative", "scale": {"domain": [-7.7, 307.5], "nice": false, "zero": false}, "axis": null},
         "y": {"field": "v", "type": "quantitative", "scale": {"domain": [-0.67, 2.11], "nice": false, "zero": false}, "axis": null}
       },
       "layer": [
         {"transform": [{"filter": "datum.s == 'E'"}], "mark": {"type": "line", "color": "#b3b3b3", "strokeWidth": 1, "clip": true}},
         {"transform": [{"filter": "datum.s == 'D'"}], "mark": {"type": "line", "color": "#000000", "strokeWidth": 7.5, "strokeCap": "round", "strokeJoin": "round", "clip": true}},
         {"transform": [{"filter": "datum.s == 'C'"}], "mark": {"type": "line", "color": "#000000", "strokeWidth": 7.5, "strokeCap": "round", "strokeJoin": "round", "strokeDash": [18, 16], "clip": true}}
       ]
     }
   ]
  }
 ]
},
{
 "bounds": "flush", "spacing": 19,
 "vconcat": [
  {
   "width": 979, "height": 196,
   "title": {"text": "T = 20", "frame": "group", "offset": 18.5},
   "data": {"name": "t20_log"},
   "encoding": {
     "x": {"field": "t", "type": "quantitative", "scale": {"domain": [-3.9, 153.9], "nice": false, "zero": false},
           "axis": {"values": [0,20,40,60,80,100,120,140], "grid": true, "gridColor": "#cdcdcd", "labels": false, "ticks": false, "domain": false, "title": null}},
     "y": {"field": "v", "type": "quantitative", "scale": {"type": "log", "domain": [6.2e-7, 0.6], "nice": false},
           "axis": {"values": [7e-7,8e-7,9e-7,1e-6,2e-6,3e-6,4e-6,5e-6,6e-6,7e-6,8e-6,9e-6,1e-5,2e-5,3e-5,4e-5,5e-5,6e-5,7e-5,8e-5,9e-5,1e-4,2e-4,3e-4,4e-4,5e-4,6e-4,7e-4,8e-4,9e-4,0.001,0.002,0.003,0.004,0.005,0.006,0.007,0.008,0.009,0.01,0.02,0.03,0.04,0.05,0.06,0.07,0.08,0.09,0.1,0.2,0.3,0.4,0.5],
                    "grid": true, "gridColor": {"condition": {"test": "abs(log(datum.value)/LN10 - round(log(datum.value)/LN10)) < 0.001 && datum.value < 0.5", "value": "#8f8f8f"}, "value": "rgba(0,0,0,0)"},
                    "ticks": true, "tickSize": -5, "tickColor": "#999999", "labelPadding": 34, "domain": false, "title": null,
                    "labelExpr": "abs(log(datum.value)/LN10 - round(log(datum.value)/LN10)) < 0.001 ? (datum.value > 0.5 ? '1.' : datum.value < 0.000002 ? '1. × 10⁻⁶' : format(datum.value, '.5~f')) : ''"}}
   },
   "layer": [
     {"transform": [{"filter": "datum.s == 'A'"}], "mark": {"type": "line", "color": "#000000", "strokeWidth": 7.5, "strokeCap": "round", "strokeJoin": "round", "clip": true}},
     {"transform": [{"filter": "datum.s == 'B'"}], "mark": {"type": "line", "color": "#000000", "strokeWidth": 7.5, "strokeCap": "round", "strokeJoin": "round", "strokeDash": [18, 16], "clip": true}}
   ]
  },
  {
   "width": 979, "height": 196,
   "resolve": {"axis": {"x": "independent", "y": "independent"}},
   "layer": [
     {
       "data": {"name": "t20_lin"},
       "transform": [{"filter": "datum.s == 'F'"}],
       "mark": {"type": "area", "color": "#808080", "stroke": "#4d4d4d", "strokeWidth": 1, "clip": true},
       "encoding": {
         "x": {"field": "t", "type": "quantitative", "scale": {"domain": [-3.9, 153.9], "nice": false, "zero": false},
               "axis": {"orient": "bottom", "values": [0,5,10,15,20,25,30,35,40,45,50,55,60,65,70,75,80,85,90,95,100,105,110,115,120,125,130,135,140,145,150], "grid": false, "ticks": true, "tickSize": -5, "labelPadding": 28.5, "domain": false, "title": null,
                        "labelExpr": "datum.value % 20 == 0 ? format(datum.value, 'd') + '.' : ''"}},
         "y": {"field": "v", "type": "quantitative", "scale": {"domain": [-0.645, 1.03], "nice": false, "zero": false},
               "axis": {"orient": "left", "values": [-0.6,-0.55,-0.5,-0.45,-0.4,-0.35,-0.3,-0.25,-0.2,-0.15,-0.1,-0.05,0,0.05,0.1,0.15,0.2,0.25,0.3,0.35,0.4,0.45,0.5,0.55,0.6,0.65,0.7,0.75,0.8,0.85,0.9,0.95,1], "grid": false, "ticks": true, "tickSize": -5, "labelPadding": 34, "domain": false, "title": null,
                        "labelExpr": "abs(datum.value*4 - round(datum.value*4)) < 0.001 ? (abs(datum.value - round(datum.value)) < 0.001 ? format(round(datum.value), 'd') + '.' : format(datum.value, '.2~f')) : ''"}},
         "y2": {"datum": -0.585}
       }
     },
     {
       "layer": [
         {"data": {"values": [{"gx":0},{"gx":20},{"gx":40},{"gx":60},{"gx":80},{"gx":100},{"gx":120},{"gx":140}]},
          "mark": {"type": "rule", "color": "#d4d4d4", "strokeWidth": 1},
          "encoding": {"x": {"field": "gx", "type": "quantitative", "scale": {"domain": [-3.9, 153.9], "nice": false, "zero": false},
                             "axis": {"orient": "top", "values": [0,5,10,15,20,25,30,35,40,45,50,55,60,65,70,75,80,85,90,95,100,105,110,115,120,125,130,135,140,145,150], "labels": false, "ticks": true, "tickSize": -5, "grid": false, "domain": false, "title": null}}}},
         {"data": {"values": [{"gy":1},{"gy":0.75},{"gy":0.5},{"gy":0.25},{"gy":-0.25},{"gy":-0.5}]},
          "mark": {"type": "rule", "color": "#d9d9d9", "strokeWidth": 1},
          "encoding": {"y": {"field": "gy", "type": "quantitative", "scale": {"domain": [-0.645, 1.03], "nice": false, "zero": false},
                             "axis": {"orient": "right", "values": [-0.6,-0.55,-0.5,-0.45,-0.4,-0.35,-0.3,-0.25,-0.2,-0.15,-0.1,-0.05,0,0.05,0.1,0.15,0.2,0.25,0.3,0.35,0.4,0.45,0.5,0.55,0.6,0.65,0.7,0.75,0.8,0.85,0.9,0.95,1], "labels": false, "ticks": true, "tickSize": -5, "grid": false, "domain": false, "title": null}}}},
         {"data": {"values": [{"gy":0}]},
          "mark": {"type": "rule", "color": "#999999", "strokeWidth": 1},
          "encoding": {"y": {"field": "gy", "type": "quantitative", "scale": {"domain": [-0.645, 1.03], "nice": false, "zero": false},
                             "axis": {"orient": "right", "values": [-0.6,-0.55,-0.5,-0.45,-0.4,-0.35,-0.3,-0.25,-0.2,-0.15,-0.1,-0.05,0,0.05,0.1,0.15,0.2,0.25,0.3,0.35,0.4,0.45,0.5,0.55,0.6,0.65,0.7,0.75,0.8,0.85,0.9,0.95,1], "labels": false, "ticks": true, "tickSize": -5, "grid": false, "domain": false, "title": null}}}}
       ]
     },
     {
       "data": {"name": "t20_lin"},
       "encoding": {
         "x": {"field": "t", "type": "quantitative", "scale": {"domain": [-3.9, 153.9], "nice": false, "zero": false}, "axis": null},
         "y": {"field": "v", "type": "quantitative", "scale": {"domain": [-0.645, 1.03], "nice": false, "zero": false}, "axis": null}
       },
       "layer": [
         {"transform": [{"filter": "datum.s == 'E'"}], "mark": {"type": "line", "color": "#b3b3b3", "strokeWidth": 1, "clip": true}},
         {"transform": [{"filter": "datum.s == 'D'"}], "mark": {"type": "line", "color": "#000000", "strokeWidth": 7.5, "strokeCap": "round", "strokeJoin": "round", "clip": true}},
         {"transform": [{"filter": "datum.s == 'C'"}], "mark": {"type": "line", "color": "#000000", "strokeWidth": 7.5, "strokeCap": "round", "strokeJoin": "round", "strokeDash": [18, 16], "clip": true}}
       ]
     }
   ]
  }
 ]
}
]
}
